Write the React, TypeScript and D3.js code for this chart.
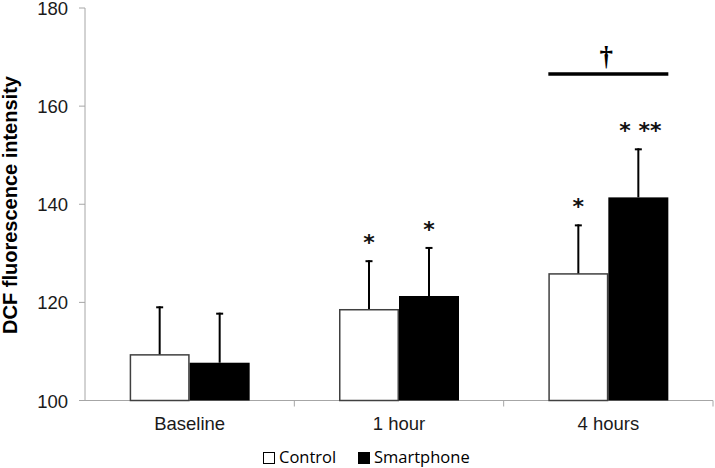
import React from "react";
import * as d3 from "d3";

const categories = ["Baseline", "1 hour", "4 hours"];
const seriesNames = ["Control", "Smartphone"];
const controlMeans = [109.3, 118.5, 125.8];
const controlSD = [9.9, 10.1, 10.1];
const smartMeans = [107.7, 121.3, 141.4];
const smartSD = [10.2, 10.0, 10.0];
const yTicks = [100, 120, 140, 160, 180];
// significance marks: [categoryIndex, seriesIndex, label]
const sigMarks: [number, number, string][] = [
  [1, 0, "*"],
  [1, 1, "*"],
  [2, 0, "*"],
  [2, 1, "* **"],
];
const daggerLabel = "\u2020";

export default function App() {
  const W = 715, H = 468;
  const x0 = 85, x1 = 713, yTop = 8, yBot = 400.5;
  const y = d3.scaleLinear().domain([100, 180]).range([yBot, yTop]);
  const xBand = d3.scaleBand<string>().domain(categories).range([x0, x1]).paddingInner(0).paddingOuter(0);
  const bw = xBand.bandwidth();
  const barW = 60;
  const xSub = d3.scaleBand<string>().domain(seriesNames).range([(bw - 2 * barW) / 2, (bw + 2 * barW) / 2]);

  const series = [
    { name: "Control", means: controlMeans, sd: controlSD, fill: "#ffffff", stroke: "#404040" },
    { name: "Smartphone", means: smartMeans, sd: smartSD, fill: "#000000", stroke: "#000000" },
  ];
  const tickFont = "Liberation Sans, Arial, sans-serif";
  const centerOf = (ci: number, si: number) =>
    (xBand(categories[ci]) as number) + (xSub(seriesNames[si]) as number) + barW / 2;

  // bracket spans the 4 hours bars
  const b0 = (xBand(categories[2]) as number) + (xSub(seriesNames[0]) as number);
  const b1 = b0 + 2 * barW;

  return (
    <svg width={W} height={H} style={{ position: "absolute", left: 0, top: 0, background: "#fff" }}>
      {/* y axis */}
      <line x1={x0} x2={x0} y1={yTop} y2={yBot} stroke="#a6a6a6" strokeWidth={1} />
      {yTicks.map((t) => (
        <g key={t}>
          <line x1={x0 - 6} x2={x0} y1={y(t)} y2={y(t)} stroke="#a6a6a6" />
          <text x={68} y={y(t)} dy="0.38em" textAnchor="end" fontFamily={tickFont} fontSize={18.5} fill="#1a1a1a">
            {t}
          </text>
        </g>
      ))}
      {/* x axis */}
      <line x1={x0} x2={x1} y1={yBot} y2={yBot} stroke="#a6a6a6" />
      {categories.map((c) => (
        <g key={c}>
          <line x1={(xBand(c) as number) + bw} x2={(xBand(c) as number) + bw} y1={yBot} y2={yBot + 6} stroke="#a6a6a6" />
          <text x={(xBand(c) as number) + bw / 2} y={430} textAnchor="middle" fontFamily={tickFont} fontSize={18.5} fill="#1a1a1a">
            {c}
          </text>
        </g>
      ))}
      {/* bars */}
      {series.map((s, si) =>
        categories.map((c, ci) => {
          const bx = (xBand(c) as number) + (xSub(s.name) as number);
          const top = y(s.means[ci]);
          const cx = bx + barW / 2;
          const et = y(s.means[ci] + s.sd[ci]);
          return (
            <g key={s.name + c}>
              <line x1={cx} x2={cx} y1={top} y2={et} stroke="#000" strokeWidth={2} />
              <line x1={cx - 3.5} x2={cx + 3.5} y1={et + 1} y2={et + 1} stroke="#000" strokeWidth={2} />
              <rect x={bx + (si === 0 ? 0.75 : 0)} y={top} width={barW - (si === 0 ? 1.5 : 0)} height={yBot - top} fill={s.fill} stroke={s.stroke} strokeWidth={si === 0 ? 1.5 : 0} />
            </g>
          );
        })
      )}
      {/* significance asterisks */}
      {sigMarks.map(([ci, si, lab], k) => {
        const top = y(series[si].means[ci] + series[si].sd[ci]);
        return (
          <text key={k} x={centerOf(ci, si) + (lab.length > 1 ? 2 : 0)} y={top - 10} textAnchor="middle" fontFamily="DejaVu Sans, sans-serif" fontSize={22} fontWeight="bold" fill="#111" style={{ whiteSpace: "pre" }}>
            {lab}
          </text>
        );
      })}
      {/* bracket with dagger */}
      <line x1={b0} x2={b1} y1={74} y2={74} stroke="#000" strokeWidth={3.5} />
      <text x={(b0 + b1) / 2 - 2} y={65} textAnchor="middle" fontFamily="Liberation Serif, serif" fontWeight="bold" fontSize={27} fill="#000">
        {daggerLabel}
      </text>
      {/* y label */}
      <text transform="translate(16.5,205) rotate(-90)" textAnchor="middle" fontFamily={tickFont} fontWeight="bold" fontSize={20} fill="#000">
        DCF fluorescence intensity
      </text>
      {/* legend */}
      <g fontFamily="Open Sans, sans-serif" fontSize={16.5} fill="#000">
        <rect x={263.5} y={452.5} width={11} height={11} fill="#fff" stroke="#000" strokeWidth={1} />
        <text x={279} y={463}>{seriesNames[0]}</text>
        <rect x={358} y={452} width={12} height={12} fill="#000" />
        <text x={374} y={463}>{seriesNames[1]}</text>
      </g>
    </svg>
  );
}
